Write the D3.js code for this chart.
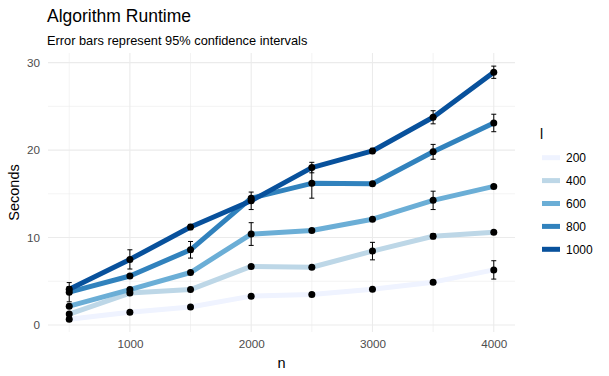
<!DOCTYPE html>
<html>
<head>
<meta charset="utf-8">
<script src="https://cdn.jsdelivr.net/npm/d3@7"></script>
<style>
  html, body { margin: 0; padding: 0; background: #fff; }
  svg { display: block; font-family: "Liberation Sans", Arial, sans-serif; }
</style>
</head>
<body>
<svg id="chart" width="609" height="376"></svg>
<script>
// ---------- data ----------
const nValues = [500, 1000, 1500, 2000, 2500, 3000, 3500, 4000];
const seriesLabels = ["200", "400", "600", "800", "1000"];
const s200  = [0.65, 1.45, 2.05, 3.3, 3.5, 4.1, 4.9, 6.3];
const s400  = [1.25, 3.65, 4.05, 6.7, 6.6, 8.45, 10.15, 10.6];
const s600  = [2.15, 4.05, 6.0, 10.4, 10.8, 12.1, 14.25, 15.85];
const s800  = [3.75, 5.6, 8.6, 14.5, 16.2, 16.15, 19.8, 23.1];
const s1000 = [4.1, 7.5, 11.2, 14.2, 18.0, 19.9, 23.75, 28.9];
// 95% CI half-widths
const e200  = [0.2, 0.2, 0.2, 0.2, 0.2, 0.2, 0.2, 1.05];
const e400  = [0.2, 0.2, 0.2, 0.2, 0.2, 1.0, 0.3, 0.2];
const e600  = [0.2, 0.2, 0.2, 1.3, 0.2, 0.2, 1.05, 0.2];
const e800  = [1.1, 0.2, 0.95, 0.2, 1.7, 0.2, 0.85, 1.0];
const e1000 = [0.3, 1.1, 0.3, 1.0, 0.6, 0.3, 0.75, 0.7];
const xMajorTicks = [1000, 2000, 3000, 4000];
const xMinorTicks = [500, 1500, 2500, 3500];
const yMajorTicks = [0, 10, 20, 30];
const yMinorTicks = [5, 15, 25];
const colors = ["#EFF3FF", "#BDD7E7", "#6BAED6", "#3182BD", "#08519C"];

const seriesVals = [s200, s400, s600, s800, s1000];
const seriesErr = [e200, e400, e600, e800, e1000];
const series = seriesLabels.map((l, i) => ({
  label: l, color: colors[i],
  pts: nValues.map((n, j) => ({ n, v: seriesVals[i][j], e: seriesErr[i][j] }))
}));

// ---------- layout ----------
const svg = d3.select("#chart");
const panel = { left: 48, right: 515, top: 53, bottom: 332 };
const x = d3.scaleLinear().domain([325, 4175]).range([panel.left, panel.right]);
const y = d3.scaleLinear().domain([-0.8, 31.1]).range([panel.bottom, panel.top]);

const grid = svg.append("g");
// minor grid
grid.selectAll(".xminor").data(xMinorTicks).enter().append("line")
  .attr("x1", d => x(d)).attr("x2", d => x(d))
  .attr("y1", panel.top).attr("y2", panel.bottom)
  .attr("stroke", "#EBEBEB").attr("stroke-width", 0.6);
grid.selectAll(".yminor").data(yMinorTicks).enter().append("line")
  .attr("y1", d => y(d)).attr("y2", d => y(d))
  .attr("x1", panel.left).attr("x2", panel.right)
  .attr("stroke", "#EBEBEB").attr("stroke-width", 0.6);
// major grid
grid.selectAll(".xmajor").data(xMajorTicks).enter().append("line")
  .attr("x1", d => x(d)).attr("x2", d => x(d))
  .attr("y1", panel.top).attr("y2", panel.bottom)
  .attr("stroke", "#EBEBEB").attr("stroke-width", 1.1);
grid.selectAll(".ymajor").data(yMajorTicks).enter().append("line")
  .attr("y1", d => y(d)).attr("y2", d => y(d))
  .attr("x1", panel.left).attr("x2", panel.right)
  .attr("stroke", "#EBEBEB").attr("stroke-width", 1.1);

// axes (labels only, via d3 axes)
const xAxis = svg.append("g").attr("transform", `translate(0,${panel.bottom})`)
  .call(d3.axisBottom(x).tickValues(xMajorTicks).tickSize(0).tickPadding(8).tickFormat(d3.format("d")));
xAxis.select(".domain").remove();
xAxis.selectAll("text").attr("fill", "#4D4D4D").style("font-size", "11.7px")
  .style("font-family", "Liberation Sans, Arial, sans-serif");

const yAxis = svg.append("g").attr("transform", `translate(${panel.left},0)`)
  .call(d3.axisLeft(y).tickValues(yMajorTicks).tickSize(0).tickPadding(8).tickFormat(d3.format("d")));
yAxis.select(".domain").remove();
yAxis.selectAll("text").attr("fill", "#4D4D4D").style("font-size", "11.7px")
  .style("font-family", "Liberation Sans, Arial, sans-serif");

// lines
const line = d3.line().x(d => x(d.n)).y(d => y(d.v));
svg.append("g").selectAll("path").data(series).enter().append("path")
  .attr("d", d => line(d.pts))
  .attr("fill", "none").attr("stroke", d => d.color)
  .attr("stroke-width", 5).attr("stroke-linejoin", "round");

// error bars
const allPts = series.flatMap(s => s.pts);
const eb = svg.append("g").attr("stroke", "#000").attr("stroke-width", 1);
eb.selectAll(".v").data(allPts).enter().append("line")
  .attr("x1", d => x(d.n)).attr("x2", d => x(d.n))
  .attr("y1", d => y(d.v - d.e)).attr("y2", d => y(d.v + d.e));
eb.selectAll(".t").data(allPts).enter().append("line")
  .attr("x1", d => x(d.n) - 2.5).attr("x2", d => x(d.n) + 2.5)
  .attr("y1", d => y(d.v + d.e)).attr("y2", d => y(d.v + d.e));
eb.selectAll(".b").data(allPts).enter().append("line")
  .attr("x1", d => x(d.n) - 2.5).attr("x2", d => x(d.n) + 2.5)
  .attr("y1", d => y(d.v - d.e)).attr("y2", d => y(d.v - d.e));

// points
svg.append("g").selectAll("circle").data(allPts).enter().append("circle")
  .attr("cx", d => x(d.n)).attr("cy", d => y(d.v)).attr("r", 3.5).attr("fill", "#000");

// titles
svg.append("text").attr("x", 47).attr("y", 22).text("Algorithm Runtime")
  .style("font-size", "17.5px").attr("fill", "#000");
svg.append("text").attr("x", 47).attr("y", 45).text("Error bars represent 95% confidence intervals")
  .style("font-size", "12.8px").attr("fill", "#000");
svg.append("text").attr("x", (panel.left + panel.right) / 2).attr("y", 368)
  .attr("text-anchor", "middle").text("n").style("font-size", "14.5px").attr("fill", "#000");
svg.append("text").attr("transform", `translate(19,${(panel.top + panel.bottom) / 2}) rotate(-90)`)
  .attr("text-anchor", "middle").text("Seconds").style("font-size", "14.5px").attr("fill", "#000");

// legend
const lg = svg.append("g");
lg.append("text").attr("x", 540).attr("y", 139).text("l").style("font-size", "14px").attr("fill", "#000");
const items = lg.selectAll(".it").data(series).enter().append("g")
  .attr("transform", (d, i) => `translate(0,${157.7 + i * 22.9})`);
items.append("line").attr("x1", 542).attr("x2", 560).attr("y1", 0).attr("y2", 0)
  .attr("stroke", d => d.color).attr("stroke-width", 5);
items.append("text").attr("x", 566).attr("y", 4.3).text(d => d.label)
  .style("font-size", "12px").attr("fill", "#000");
</script>
</body>
</html>
